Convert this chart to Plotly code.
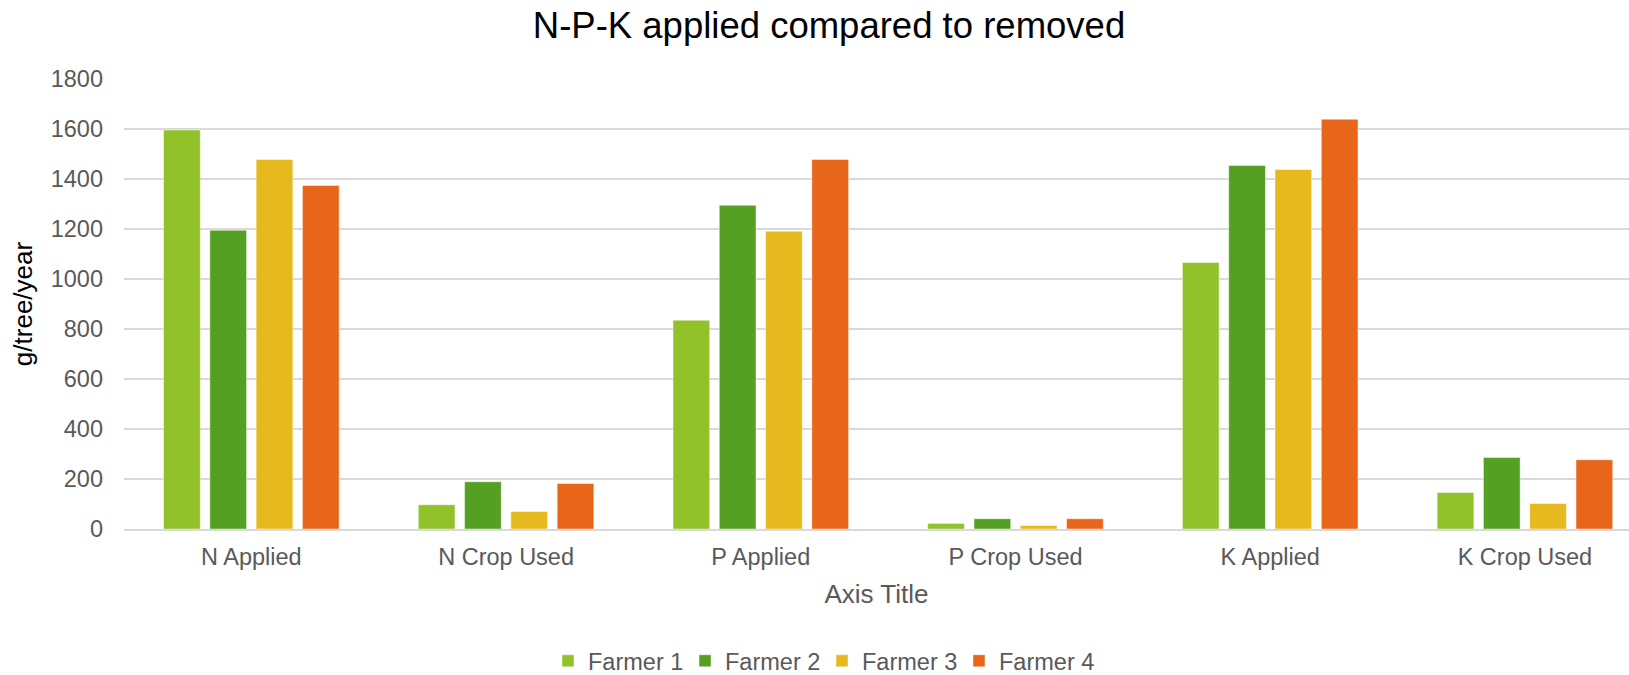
import plotly.graph_objects as go

categories = ["N Applied", "N Crop Used", "P Applied", "P Crop Used", "K Applied", "K Crop Used"]
farmer1 = [1596, 97, 835, 22, 1066, 146]
farmer2 = [1195, 189, 1295, 41, 1454, 286]
farmer3 = [1478, 70, 1191, 14, 1438, 102]
farmer4 = [1374, 182, 1478, 41, 1639, 277]
series_names = ["Farmer 1", "Farmer 2", "Farmer 3", "Farmer 4"]
series_values = [farmer1, farmer2, farmer3, farmer4]
colors = ["#92C229", "#55A022", "#E6B91E", "#E8661A"]
y_ticks = [0, 200, 400, 600, 800, 1000, 1200, 1400, 1600, 1800]

FONT = "Liberation Sans, Arial, sans-serif"
GREY = "#595959"

fig = go.Figure()
for name, vals, col in zip(series_names, series_values, colors):
    fig.add_trace(go.Bar(
        name=name, x=categories, y=vals,
        marker=dict(color=col, line=dict(color="rgba(255,255,255,0.45)", width=1)),
    ))

W, H = 1629, 675
left, top, bottom = 123.5, 78.7, 146.3
cat_w = 254.8
x_right = (W - left) / cat_w - 0.5

fig.update_layout(
    width=W, height=H, autosize=False,
    barmode="group", bargap=0.273, bargroupgap=0.207,
    plot_bgcolor="white", paper_bgcolor="white",
    margin=dict(l=left, r=0, t=top, b=bottom, pad=0),
    font=dict(family=FONT, color=GREY, size=23.5),
    title=dict(text="N-P-K applied compared to removed", x=829 / W, xref="container",
               xanchor="center", y=1 - 25 / H, yref="container", yanchor="middle",
               font=dict(size=36.5, color="#000000", family=FONT)),
    legend=dict(orientation="h", x=548 / W, xref="container", xanchor="left",
                y=1 - 661 / H, yref="container", yanchor="middle",
                entrywidth=92, entrywidthmode="pixels",
                font=dict(size=23.5, color=GREY, family=FONT), traceorder="normal"),
    xaxis=dict(type="category", range=[-0.5, x_right], showgrid=False,
               showline=True, linecolor="#D9D9D9", linewidth=1.5, ticks="",
               ticklabelstandoff=6,
               tickfont=dict(size=23.5, color=GREY),
               title=dict(text="Axis Title", font=dict(size=26, color=GREY), standoff=16),
               automargin=False, fixedrange=True),
    yaxis=dict(range=[0, 1800], tickvals=y_ticks, showgrid=True, gridcolor="#D9D9D9",
               gridwidth=1.5, zeroline=False, showline=False, ticks="",
               ticklabelstandoff=20,
               tickfont=dict(size=23.5, color=GREY),
               title=dict(text="g/tree/year", font=dict(size=26, color="#000000"), standoff=10),
               automargin=False, fixedrange=True),
)

fig.write_html("out.html")
